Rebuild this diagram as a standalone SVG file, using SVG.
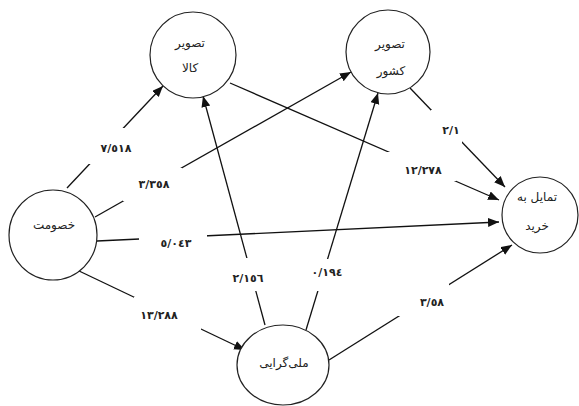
<svg xmlns="http://www.w3.org/2000/svg" width="579" height="406" viewBox="0 0 579 406">
<style>
.node ellipse{fill:#fff;stroke:#222;stroke-width:1.2}
.node text{font-family:"DejaVu Sans","Noto Sans",sans-serif;font-size:12px;fill:#222;text-anchor:middle;direction:rtl}
.edges line{stroke:#111;stroke-width:1.3;marker-end:url(#ah)}
.lbl rect{fill:#fff}
.lbl text{font-family:"DejaVu Sans","Noto Sans",sans-serif;font-size:11px;font-weight:bold;fill:#222;text-anchor:middle}
</style>
<defs>
<marker id="ah" markerUnits="userSpaceOnUse" markerWidth="12" markerHeight="10" refX="11" refY="4.5" orient="auto">
<path d="M0,0 L11,4.5 L0,9 Z" fill="#111"/>
</marker>
</defs>
<rect width="579" height="406" fill="#fff"/>
<g class="edges">
<line x1="67" y1="188" x2="163" y2="86"/>
<line x1="95" y1="217" x2="351" y2="72"/>
<line x1="97" y1="241" x2="499" y2="222"/>
<line x1="77" y1="270" x2="245" y2="350"/>
<line x1="265" y1="325" x2="203" y2="96"/>
<line x1="306" y1="330" x2="378" y2="93"/>
<line x1="329" y1="360" x2="512" y2="245"/>
<line x1="230" y1="83" x2="499" y2="200"/>
<line x1="410" y1="88" x2="505" y2="187"/>
</g>
<g class="lbl">
<rect x="86" y="128" width="60" height="36"/>
<text x="116" y="152">٧/٥١٨</text>
<rect x="123" y="168" width="59" height="33"/>
<text x="154" y="188">٣/٣٥٨</text>
<rect x="139" y="228" width="68" height="22"/>
<text x="176" y="247">٥/٠٤٣</text>
<rect x="134" y="297" width="67" height="34"/>
<text x="159" y="319">١٣/٢٨٨</text>
<rect x="226" y="258" width="44" height="33"/>
<text x="248" y="282">٢/١٥٦</text>
<rect x="308" y="259" width="40" height="32"/>
<text x="327" y="276">٠/١٩٤</text>
<rect x="398" y="283" width="51" height="33"/>
<text x="432" y="306">٣/٥٨</text>
<rect x="386" y="152" width="70" height="29"/>
<text x="423" y="174">١٢/٢٧٨</text>
<rect x="431" y="110" width="31" height="34"/>
<text x="451" y="134">٢/١</text>
</g>
<g id="n-kala" class="node">
<ellipse cx="193" cy="55" rx="43" ry="43"/>
<text x="190" y="47">تصویر</text>
<text x="190" y="72">کالا</text>
</g>
<g id="n-keshvar" class="node">
<ellipse cx="388" cy="52" rx="42" ry="42"/>
<text x="390" y="48">تصویر</text>
<text x="391" y="75">کشور</text>
</g>
<g id="n-tamayol" class="node">
<ellipse cx="540" cy="215" rx="38" ry="38"/>
<text x="537" y="201">تمایل به</text>
<text x="537" y="230">خرید</text>
</g>
<g id="n-khosoomat" class="node">
<ellipse cx="53" cy="235" rx="44" ry="45"/>
<text x="54" y="229">خصومت</text>
</g>
<g id="n-melligarayi" class="node">
<ellipse cx="283" cy="365" rx="46" ry="40"/>
<text x="284" y="367">ملی‌گرایی</text>
</g>
</svg>
